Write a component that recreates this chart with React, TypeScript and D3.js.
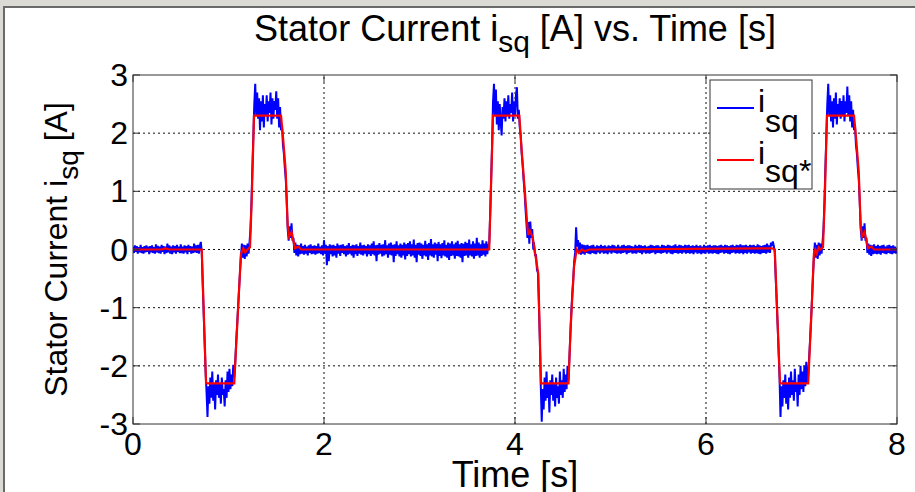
import React from 'react';
import * as d3 from 'd3';

// measured i_sq sampled every 10 ms, reference i_sq* as breakpoints
const timeStep = 0.01;
const xTicks = [0, 2, 4, 6, 8];
const yTicks = [-3, -2, -1, 0, 1, 2, 3];

const refSignal: [number, number][] = [
  [0, 0], [0.3, 0], [0.34, 0.02], [0.38, 0], [0.72, 0], [0.765, -2.3], [1.06, -2.3],
  [1.13, -0.08], [1.155, 0.02], [1.175, -0.05], [1.2, 0], [1.225, 0.04], [1.243, 0.84],
  [1.26, 1.87], [1.267, 2.3], [1.55, 2.3], [1.574, 1.87], [1.599, 1.35], [1.62, 0.4],
  [1.634, 0.22], [1.66, 0.3], [1.696, 0.02], [1.73, 0.05], [1.76, 0], [3.73, 0],
  [3.77, 2.3], [4.045, 2.3], [4.07, 1.7], [4.105, 0.96], [4.13, 0.38], [4.14, 0.25],
  [4.157, 0.32], [4.185, 0.21], [4.244, -0.42], [4.262, -1.62], [4.272, -2.3], [4.56, -2.3],
  [4.583, -1.33], [4.618, -0.3], [4.646, 0], [4.67, -0.06], [4.7, 0], [4.73, -0.03],
  [4.78, 0], [6.69, 0.02], [6.72, 0], [6.775, -2.3], [7.07, -2.3], [7.107, -0.99],
  [7.13, -0.07], [7.145, 0], [7.16, -0.07], [7.18, 0.04], [7.2, 0], [7.225, 0.04],
  [7.243, 0.84], [7.26, 1.87], [7.267, 2.3], [7.55, 2.3], [7.574, 1.87], [7.599, 1.35],
  [7.62, 0.4], [7.634, 0.22], [7.66, 0.3], [7.696, 0.02], [7.73, 0.05], [7.76, 0], [8, 0],
];

const measured: number[] = [
  0.05,-0.06,0.07,-0.04,0.06,-0.07,0.04,-0.05,0.08,-0.06,
  0.04,-0.07,0.06,-0.05,0.07,-0.04,0.05,-0.08,0.06,-0.05,
  0.07,-0.06,0.04,-0.07,0.09,-0.05,0.06,-0.06,0.05,-0.07,
  0.08,-0.04,0.06,-0.08,0.05,-0.06,0.1,-0.05,0.07,-0.07,
  0.05,-0.08,0.07,-0.05,0.06,-0.07,0.08,-0.04,0.05,-0.06,
  0.09,-0.06,0.05,-0.07,0.07,-0.05,0.06,-0.08,0.08,-0.04,
  0.06,-0.07,0.05,-0.06,0.1,-0.05,0.07,-0.06,0.08,-0.07,
  0.06,0.13,-0.05,-0.6,-1.1,-1.6,-2.1,-2.45,-2.88,-2.35,
  -2.65,-2.2,-2.55,-2.1,-2.6,-2.3,-2.75,-2.25,-2.5,-2.15,
  -2.55,-2.3,-2.65,-2.2,-2.5,-2.4,-2.7,-2.25,-2.55,-2.1,
  -2.45,-2.05,-2.4,-2.15,-2.35,-1.98,-2.2,-1.95,-1.6,-1.3,
  -1.0,-0.7,-0.4,-0.12,0.1,-0.14,0.08,-0.16,0.07,-0.12,
  0.1,-0.07,0.12,0.35,0.8,1.4,1.95,2.5,2.85,2.3,
  2.7,2.25,2.6,2.05,2.55,2.2,2.65,2.1,2.5,2.3,
  2.65,2.2,2.55,2.35,2.7,2.15,2.6,2.25,2.55,2.4,
  2.72,2.25,2.6,2.1,2.45,2.05,2.15,1.8,1.65,1.4,
  1.2,0.8,0.35,0.15,0.4,0.2,0.45,0.15,0.2,-0.06,
  0.12,-0.1,0.08,-0.12,0.07,-0.08,0.1,-0.07,0.06,-0.09,
  0.08,-0.07,0.05,-0.1,0.07,-0.06,0.09,-0.08,0.06,-0.07,
  0.07,-0.09,0.06,-0.07,0.1,-0.06,0.05,-0.08,0.07,-0.1,
  0.16,-0.07,0.08,-0.27,0.06,-0.2,0.09,-0.08,0.07,-0.12,
  0.08,-0.1,0.06,-0.14,0.1,-0.07,0.07,-0.11,0.08,-0.06,
  0.09,-0.08,0.06,-0.12,0.07,-0.09,0.11,-0.07,0.06,-0.1,
  0.08,-0.14,0.07,-0.08,0.09,-0.11,0.06,-0.07,0.12,-0.09,
  0.07,-0.1,0.08,-0.07,0.06,-0.12,0.09,-0.08,0.07,-0.11,
  0.1,-0.08,0.14,-0.1,0.07,-0.2,0.08,-0.09,0.11,-0.07,
  0.08,-0.12,0.09,-0.1,0.16,-0.08,0.07,-0.14,0.1,-0.09,
  0.12,-0.1,0.08,-0.22,0.09,-0.11,0.14,-0.08,0.07,-0.12,
  0.1,-0.14,0.08,-0.1,0.12,-0.17,0.09,-0.11,0.11,-0.08,
  0.14,-0.12,0.09,-0.1,0.17,-0.14,0.08,-0.22,0.11,-0.09,
  0.12,-0.11,0.1,-0.16,0.08,-0.1,0.15,-0.12,0.09,-0.18,
  0.11,-0.1,0.18,-0.12,0.09,-0.14,0.12,-0.09,0.1,-0.2,
  0.13,-0.11,0.09,-0.15,0.11,-0.1,0.16,-0.12,0.08,-0.14,
  0.12,-0.18,0.1,-0.11,0.14,-0.1,0.09,-0.16,0.12,-0.11,
  0.15,-0.12,0.09,-0.14,0.11,-0.22,0.1,-0.11,0.13,-0.1,
  0.11,-0.14,0.17,-0.1,0.09,-0.12,0.14,-0.16,0.1,-0.11,
  0.2,-0.1,0.12,-0.14,0.09,-0.11,0.16,-0.09,0.1,-0.12,
  0.14,-0.08,0.08,0.1,0.6,1.2,1.8,2.55,2.85,2.3,
  2.75,2.15,2.55,2.05,2.5,2.2,1.96,2.45,2.25,2.6,
  2.2,2.55,2.3,2.65,2.25,2.5,2.35,2.7,2.2,2.55,
  2.3,2.65,2.79,2.25,2.4,2.1,1.95,1.65,1.45,1.2,
  1.0,0.7,0.45,0.2,0.47,0.1,0.48,0.2,0.35,0.05,
  0.08,-0.1,-0.1,-0.35,-0.4,-0.95,-1.55,-2.35,-2.96,-2.4,
  -2.75,-2.2,-2.6,-2.1,-2.55,-2.3,-2.8,-2.25,-2.5,-2.15,
  -2.6,-2.3,-2.7,-2.2,-2.55,-2.35,-2.65,-2.1,-2.5,-2.25,
  -2.55,-2.05,-2.45,-2.15,-2.4,-2.0,-2.25,-1.85,-1.45,-1.05,
  -0.75,-0.5,-0.2,-0.05,0.38,0.05,0.16,-0.07,0.12,-0.09,
  0.09,-0.07,0.08,-0.09,0.07,-0.06,0.08,-0.07,0.06,-0.08,
  0.07,-0.06,0.08,-0.07,0.05,-0.08,0.07,-0.05,0.06,-0.07,
  0.08,-0.05,0.06,-0.07,0.07,-0.06,0.05,-0.08,0.07,-0.05,
  0.06,-0.07,0.08,-0.05,0.07,-0.06,0.05,-0.07,0.08,-0.06,
  0.05,-0.07,0.07,-0.06,0.08,-0.05,0.06,-0.08,0.07,-0.06,
  0.07,-0.05,0.06,-0.07,0.05,-0.06,0.08,-0.07,0.06,-0.05,
  0.08,-0.06,0.07,-0.08,0.06,-0.05,0.07,-0.07,0.05,-0.06,
  0.06,-0.07,0.08,-0.06,0.07,-0.05,0.06,-0.08,0.07,-0.06,
  0.07,-0.06,0.05,-0.07,0.08,-0.06,0.07,-0.05,0.06,-0.07,
  0.08,-0.05,0.07,-0.07,0.06,-0.08,0.07,-0.06,0.09,-0.06,
  0.06,-0.07,0.08,-0.06,0.07,-0.07,0.06,-0.05,0.08,-0.07,
  0.07,-0.06,0.08,-0.07,0.06,-0.06,0.07,-0.08,0.06,-0.05,
  0.08,-0.07,0.06,-0.06,0.07,-0.08,0.05,-0.06,0.08,-0.07,
  0.06,-0.05,0.07,-0.07,0.08,-0.06,0.06,-0.07,0.07,-0.06,
  0.07,-0.07,0.06,-0.08,0.07,-0.06,0.08,-0.05,0.06,-0.07,
  0.08,-0.06,0.07,-0.07,0.06,-0.08,0.07,-0.06,0.08,-0.05,
  0.06,-0.07,0.08,-0.06,0.07,-0.07,0.09,-0.06,0.07,-0.08,
  0.07,-0.06,0.08,-0.07,0.06,-0.05,0.08,-0.07,0.07,-0.06,
  0.08,-0.07,0.06,-0.06,0.09,-0.07,0.07,-0.08,0.06,-0.06,
  0.07,-0.06,0.08,-0.07,0.1,-0.05,0.07,-0.06,0.12,0.06,
  0.14,0.06,-0.05,-0.5,-0.9,-1.3,-1.75,-2.2,-2.88,-2.35,
  -2.7,-2.25,-2.55,-2.15,-2.65,-2.3,-2.75,-2.2,-2.55,-2.1,
  -2.5,-2.25,-2.6,-2.05,-2.45,-2.3,-2.7,-2.15,-2.5,-2.0,
  -2.4,-2.1,-2.45,-2.0,-2.35,-1.93,-2.3,-2.15,-1.85,-1.55,
  -1.2,-0.85,-0.45,-0.12,0.12,-0.14,0.08,-0.16,0.12,-0.1,
  0.1,-0.07,0.12,0.35,0.8,1.4,1.95,2.5,2.85,2.3,
  2.65,2.2,2.55,2.1,2.6,2.25,2.7,2.15,2.5,2.3,
  2.6,2.25,2.55,2.3,2.65,2.2,2.55,2.35,2.8,2.3,
  2.65,2.2,2.55,2.1,2.4,2.05,2.15,1.8,1.65,1.4,
  1.2,0.8,0.35,0.15,0.4,0.2,0.45,0.15,0.2,-0.06,
  0.1,-0.09,0.08,-0.11,0.07,-0.08,0.09,-0.07,0.06,-0.08,
  0.08,-0.07,0.06,-0.09,0.07,-0.06,0.08,-0.07,0.05,-0.08,
  0.07,-0.06,0.08,-0.07,0.06,-0.08,0.07,-0.06,0.05,-0.07,
  0.03,
];

const font = 'Liberation Sans, Arial, sans-serif';

export default function App() {
  const x = d3.scaleLinear().domain([0, 8]).range([133, 897]);
  const y = d3.scaleLinear().domain([-3, 3]).range([424, 75]);

  const measuredLine = d3.line<number>()
    .x((d, i) => x(i * timeStep))
    .y(d => y(d));
  const refLine = d3.line<[number, number]>()
    .x(d => x(d[0]))
    .y(d => y(d[1]));

  const [x0, x1] = x.range();
  const [y0, y1] = y.range();

  return (
    <div>
      <style>{`body{margin:0}`}</style>
      <svg width={915} height={492} style={{ display: 'block' }}>
        <rect width={915} height={492} fill="#ffffff" />
        {/* window chrome */}
        <rect x={0} y={0} width={915} height={6} fill="#dcdad5" />
        <rect x={0} y={6} width={915} height={2} fill="#6a6a6a" />
        <rect x={0} y={0} width={3} height={492} fill="#dcdad5" />
        <rect x={3} y={6} width={2} height={486} fill="#6a6a6a" />

        <defs>
          <clipPath id="plot">
            <rect x={x0} y={y1} width={x1 - x0} height={y0 - y1} />
          </clipPath>
        </defs>

        {/* grid */}
        {xTicks.slice(1, -1).map(t => (
          <line key={'gx' + t} x1={x(t)} x2={x(t)} y1={y0} y2={y1}
            stroke="#111" strokeWidth={1} strokeDasharray="2,3" />
        ))}
        {yTicks.slice(1, -1).map(t => (
          <line key={'gy' + t} x1={x0} x2={x1} y1={y(t)} y2={y(t)}
            stroke="#111" strokeWidth={1} strokeDasharray="2,3" />
        ))}

        <g clipPath="url(#plot)">
          <path d={measuredLine(measured) ?? ''} fill="none" stroke="#0000ff" strokeWidth={2} />
          <path d={refLine(refSignal) ?? ''} fill="none" stroke="#ff0000" strokeWidth={2.2} />
        </g>

        {/* axes box and ticks */}
        <rect x={x0} y={y1} width={x1 - x0} height={y0 - y1} fill="none" stroke="#333" strokeWidth={1} />
        {xTicks.map(t => (
          <g key={'tx' + t}>
            <line x1={x(t)} x2={x(t)} y1={y0} y2={y0 - 7} stroke="#333" />
            <line x1={x(t)} x2={x(t)} y1={y1} y2={y1 + 7} stroke="#333" />
            <text x={x(t)} y={455} textAnchor="middle" fontFamily={font} fontSize={32}>{t}</text>
          </g>
        ))}
        {yTicks.map(t => (
          <g key={'ty' + t}>
            <line x1={x0} x2={x0 + 7} y1={y(t)} y2={y(t)} stroke="#333" />
            <line x1={x1} x2={x1 - 7} y1={y(t)} y2={y(t)} stroke="#333" />
            <text x={128} y={y(t) + 11} textAnchor="end" fontFamily={font} fontSize={32}>{t}</text>
          </g>
        ))}

        {/* title */}
        <text x={(x0 + x1) / 2} y={41} textAnchor="middle" fontFamily={font} fontSize={36}>
          Stator Current i<tspan dy={11} fontSize={30}>sq</tspan><tspan dy={-11}> [A] vs. Time [s]</tspan>
        </text>
        {/* x label */}
        <text x={(x0 + x1) / 2} y={487} textAnchor="middle" fontFamily={font} fontSize={36}>Time [s]</text>
        {/* y label */}
        <text transform={`translate(67,${(y0 + y1) / 2}) rotate(-90)`} textAnchor="middle" fontFamily={font} fontSize={32}>
          Stator Current i<tspan dy={11} fontSize={28}>sq</tspan><tspan dy={-11}> [A]</tspan>
        </text>

        {/* legend */}
        <rect x={710} y={80} width={102} height={109} fill="#ffffff" stroke="#333" strokeWidth={1} />
        <line x1={717} x2={754} y1={108} y2={108} stroke="#0000ff" strokeWidth={2} />
        <text x={758} y={112} fontFamily={font} fontSize={32}>
          i<tspan dy={20}>sq</tspan>
        </text>
        <line x1={717} x2={754} y1={160} y2={160} stroke="#ff0000" strokeWidth={2.2} />
        <text x={758} y={164} fontFamily={font} fontSize={32}>
          i<tspan dy={18}>sq*</tspan>
        </text>
      </svg>
    </div>
  );
}
